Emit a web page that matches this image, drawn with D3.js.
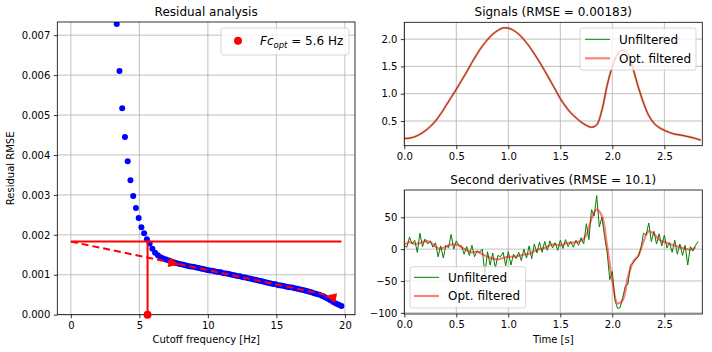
<!DOCTYPE html>
<html><head><meta charset="utf-8">
<script src="https://cdn.jsdelivr.net/npm/d3@7/dist/d3.min.js"></script>
<style>body{margin:0;background:#fff}svg{display:block;font-family:"DejaVu Sans",sans-serif}</style>
</head><body><svg id="c" width="712" height="352"></svg>
<script>
// ---------- data ----------
const freqs = [3.35,3.55,3.75,3.95,4.15,4.35,4.55,4.75,4.95,5.15,5.35,5.55,5.75,5.95,6.15,6.35,6.55,6.75,6.95,7.15,7.35,7.55,7.75,7.95,8.15,8.35,8.55,8.75,8.95,9.15,9.35,9.55,9.75,9.95,10.15,10.35,10.55,10.75,10.95,11.15,11.35,11.55,11.75,11.95,12.15,12.35,12.55,12.75,12.95,13.15,13.35,13.55,13.75,13.95,14.15,14.35,14.55,14.75,14.95,15.15,15.35,15.55,15.75,15.95,16.15,16.35,16.55,16.75,16.95,17.15,17.35,17.55,17.75,17.95,18.15,18.35,18.55,18.75,18.95,19.15,19.35,19.55,19.75];
const residuals = [0.00728,0.00610,0.00517,0.00445,0.00384,0.00337,0.00297,0.00267,0.00242,0.00219,0.00204,0.00189,0.00178,0.00165,0.00155,0.00149,0.00144,0.00141,0.00138,0.00136,0.00133,0.00131,0.00129,0.00127,0.00126,0.00124,0.00122,0.00121,0.00120,0.00118,0.00117,0.00115,0.00114,0.00112,0.00111,0.00110,0.00108,0.00107,0.00106,0.00104,0.00103,0.00102,0.00100,0.00099,0.00097,0.00096,0.00094,0.00093,0.00091,0.00090,0.00088,0.00087,0.00085,0.00084,0.00082,0.00080,0.00079,0.00077,0.00076,0.00074,0.00073,0.00072,0.00070,0.00069,0.00068,0.00066,0.00065,0.00063,0.00062,0.00060,0.00058,0.00056,0.00054,0.00052,0.00050,0.00047,0.00044,0.00040,0.00036,0.00032,0.00028,0.00025,0.00022];
const fcOpt = 5.6;
const rmseOpt = 0.00183;
const regFreqs = [0, 19.6];
const regValues = [0.00183, 0.00043];
const arrowFreqs = [7.5, 19.0];
const arrowValues = [0.00129, 0.00044];
const arrowDirs = [1, -1];
const residualYMax = 0.00733;
const residualXTicks = [0, 5, 10, 15, 20];
const residualYTicks = [0, 0.001, 0.002, 0.003, 0.004, 0.005, 0.006, 0.007];

const timeSig = [0,0.05,0.1,0.15,0.2,0.25,0.3,0.35,0.4,0.45,0.5,0.55,0.6,0.65,0.7,0.75,0.8,0.85,0.9,0.95,1.0,1.05,1.1,1.15,1.2,1.25,1.3,1.35,1.4,1.45,1.5,1.55,1.6,1.65,1.7,1.75,1.8,1.85,1.9,1.95,2.0,2.05,2.1,2.15,2.2,2.25,2.3,2.35,2.4,2.45,2.5,2.55,2.6,2.65,2.7,2.75,2.8,2.85];
const signalRaw = [0.18,0.185,0.21,0.257,0.32,0.40,0.50,0.63,0.78,0.93,1.08,1.24,1.40,1.57,1.73,1.87,1.99,2.09,2.16,2.205,2.20,2.16,2.09,1.99,1.87,1.73,1.58,1.42,1.25,1.08,0.91,0.77,0.65,0.56,0.48,0.42,0.385,0.43,0.70,1.15,1.50,1.72,1.80,1.73,1.45,1.12,0.83,0.60,0.46,0.38,0.33,0.29,0.26,0.245,0.225,0.205,0.18,0.15];
const signalFilt = [0.18,0.185,0.21,0.257,0.32,0.40,0.50,0.63,0.78,0.93,1.08,1.24,1.40,1.57,1.73,1.87,1.99,2.09,2.16,2.205,2.20,2.16,2.09,1.99,1.87,1.73,1.58,1.42,1.25,1.08,0.91,0.77,0.65,0.56,0.48,0.42,0.385,0.43,0.70,1.15,1.50,1.72,1.80,1.73,1.45,1.12,0.83,0.60,0.46,0.38,0.33,0.29,0.26,0.245,0.225,0.205,0.18,0.15];
const timeAccRaw = [0,0.025,0.05,0.075,0.1,0.125,0.15,0.175,0.2,0.225,0.25,0.275,0.3,0.325,0.35,0.375,0.4,0.425,0.45,0.475,0.5,0.525,0.55,0.575,0.6,0.625,0.65,0.675,0.7,0.725,0.75,0.775,0.8,0.825,0.85,0.875,0.9,0.925,0.95,0.975,1.0,1.025,1.05,1.075,1.1,1.125,1.15,1.175,1.2,1.225,1.25,1.275,1.3,1.325,1.35,1.375,1.4,1.425,1.45,1.475,1.5,1.525,1.55,1.575,1.6,1.625,1.65,1.675,1.7,1.725,1.75,1.775,1.8,1.825,1.85,1.875,1.9,1.925,1.95,1.975,2.0,2.025,2.05,2.075,2.1,2.125,2.15,2.175,2.2,2.225,2.25,2.275,2.3,2.325,2.35,2.375,2.4,2.425,2.45,2.475,2.5,2.525,2.55,2.575,2.6,2.625,2.65,2.675,2.7,2.725,2.75,2.775,2.8,2.825];
const accRaw = [5,3,19,8,14,-5,25,4,16,8,13,3,10,-12,5,-14,6,2,23,0,13,6,5,-8,4,-10,6,-12,-3,-5,0,-40,-4,-25,-6,-30,-10,-12,-5,-26,-4,-25,-8,-15,-5,-18,0,-14,5,-15,8,-6,11,-5,12,-2,13,2,10,-2,14,1,15,4,12,3,14,6,18,8,40,15,62,52,84,35,50,20,-5,-48,-35,-80,-93,-92,-76,-58,-55,-25,-22,-15,-12,2,25,22,41,12,28,8,24,5,22,2,10,-5,14,-8,8,-10,6,-25,4,-3,6,12];
const timeAccFilt = [0,0.05,0.1,0.15,0.2,0.25,0.3,0.35,0.4,0.45,0.5,0.55,0.6,0.65,0.7,0.75,0.8,0.85,0.9,0.95,1.0,1.05,1.1,1.15,1.2,1.25,1.3,1.35,1.4,1.45,1.5,1.55,1.6,1.65,1.7,1.75,1.8,1.85,1.9,1.95,2.0,2.05,2.1,2.15,2.2,2.25,2.3,2.35,2.4,2.45,2.5,2.55,2.6,2.65,2.7,2.75,2.8];
const accFilt = [7,11,8,9.5,12.6,11,4,0.5,4,7,7,3,-2,-5,-4,-8,-12,-15,-16,-14,-12,-12,-10.5,-8.4,-7.4,-3,0,2,6,7.4,5.8,9,10,11,13,22,48,62,52,5,-50,-85,-80,-44,-20,-10,12,28,24,15,11,8.5,5.5,3,1,-1,3];
const timeMax = 2.865;
const timeTicks = [0, 0.5, 1.0, 1.5, 2.0, 2.5];
const sigYTicks = [0.5, 1.0, 1.5, 2.0];
const accYTicks = [-100, -50, 0, 50];
const legendLabels = ["Unfiltered", "Opt. filtered"];

// ---------- helpers ----------
const svg = d3.select("#c");
const FONT = '"DejaVu Sans", sans-serif';
const GREEN = "#008000", RED = "#ff0000";
function pad(ext){const r=ext[1]-ext[0];return [ext[0]-0.05*r, ext[1]+0.05*r];}
let clipId = 0;
function panel(box, xs, ys, xt, yt, xf, yf, title){
  const g = svg.append("g");
  g.append("g").selectAll("line").data(xt).join("line")
    .attr("x1",d=>xs(d)).attr("x2",d=>xs(d)).attr("y1",box.y0).attr("y2",box.y1)
    .attr("stroke","#b0b0b0").attr("stroke-width",0.8);
  g.append("g").selectAll("line").data(yt).join("line")
    .attr("y1",d=>ys(d)).attr("y2",d=>ys(d)).attr("x1",box.x0).attr("x2",box.x1)
    .attr("stroke","#b0b0b0").attr("stroke-width",0.8);
  const id = "clip"+(clipId++);
  svg.append("clipPath").attr("id",id).append("rect")
    .attr("x",box.x0).attr("y",box.y0).attr("width",box.x1-box.x0).attr("height",box.y1-box.y0);
  const plot = svg.append("g").attr("clip-path",`url(#${id})`);
  const over = svg.append("g");
  const xa = over.append("g").attr("transform",`translate(0,${box.y1})`)
    .call(d3.axisBottom(xs).tickValues(xt).tickFormat(xf).tickSize(3.5).tickPadding(3.5));
  const ya = over.append("g").attr("transform",`translate(${box.x0},0)`)
    .call(d3.axisLeft(ys).tickValues(yt).tickFormat(yf).tickSize(3.5).tickPadding(3.5));
  [xa,ya].forEach(a=>{a.select(".domain").remove();
    a.selectAll("text").attr("font-family",FONT).attr("font-size",10).attr("fill","#000");
    a.selectAll("line").attr("stroke","#000").attr("stroke-width",0.8);});
  over.append("rect").attr("x",box.x0).attr("y",box.y0).attr("width",box.x1-box.x0).attr("height",box.y1-box.y0)
    .attr("fill","none").attr("stroke","#000").attr("stroke-width",0.8);
  over.append("text").attr("x",(box.x0+box.x1)/2).attr("y",box.y0-6).attr("text-anchor","middle")
    .attr("font-family",FONT).attr("font-size",12).text(title);
  return {plot, over};
}
function legendBox(g, x, y, w, h){
  g.append("rect").attr("x",x).attr("y",y).attr("width",w).attr("height",h).attr("rx",2.5)
    .attr("fill","#fff").attr("fill-opacity",0.8).attr("stroke","#cccccc").attr("stroke-width",0.8);
}

// ---------- left panel: residual analysis ----------
const LB = {x0:57.3, x1:355, y0:22, y1:314.7};
const lx = d3.scaleLinear().domain(pad([0, d3.max(freqs)])).range([LB.x0, LB.x1]);
const ly = d3.scaleLinear().domain([0, residualYMax]).range([LB.y1, LB.y0]);
const L = panel(LB, lx, ly, residualXTicks, residualYTicks, d3.format("d"), d3.format(".3f"), "Residual analysis");
L.plot.append("g").selectAll("circle").data(freqs).join("circle")
  .attr("cx",d=>lx(d)).attr("cy",(d,i)=>ly(residuals[i])).attr("r",3).attr("fill","#0000ff");
L.plot.append("line").attr("x1",lx(0)).attr("x2",lx(d3.max(freqs))).attr("y1",ly(rmseOpt)).attr("y2",ly(rmseOpt))
  .attr("stroke",RED).attr("stroke-width",2);
L.plot.append("line").attr("x1",lx(fcOpt)).attr("x2",lx(fcOpt)).attr("y1",ly(0)).attr("y2",ly(rmseOpt))
  .attr("stroke",RED).attr("stroke-width",2);
L.plot.append("line").attr("x1",lx(regFreqs[0])).attr("x2",lx(regFreqs[1])).attr("y1",ly(regValues[0])).attr("y2",ly(regValues[1]))
  .attr("stroke",RED).attr("stroke-width",2).attr("stroke-dasharray","7,4");
const ang = Math.atan2(ly(regValues[1])-ly(regValues[0]), lx(regFreqs[1])-lx(regFreqs[0]));
L.plot.append("g").selectAll("path").data(arrowFreqs).join("path")
  .attr("d","M6,0 L-5,-5 L-5,5 Z")
  .attr("transform",(d,i)=>`translate(${lx(d)},${ly(arrowValues[i])}) rotate(${(ang*180/Math.PI)+(arrowDirs[i]<0?180:0)})`)
  .attr("fill",RED);
L.over.append("circle").attr("cx",lx(fcOpt)).attr("cy",ly(0)).attr("r",4).attr("fill",RED);
svg.append("text").attr("x",(LB.x0+LB.x1)/2).attr("y",343).attr("text-anchor","middle")
  .attr("font-family",FONT).attr("font-size",10).text("Cutoff frequency [Hz]");
svg.append("text").attr("transform",`translate(14,${(LB.y0+LB.y1)/2}) rotate(-90)`).attr("text-anchor","middle")
  .attr("font-family",FONT).attr("font-size",10).text("Residual RMSE");
legendBox(L.over, 221, 28, 128, 27);
L.over.append("circle").attr("cx",238).attr("cy",40.7).attr("r",4).attr("fill",RED);
const lt = L.over.append("text").attr("x",260).attr("y",45).attr("font-family",FONT).attr("font-size",12);
lt.append("tspan").attr("font-style","italic").text("Fc");
lt.append("tspan").attr("font-style","italic").attr("font-size",8.5).attr("dy",3).text("opt");
lt.append("tspan").attr("dy",-3).text(" = " + fcOpt.toFixed(1) + " Hz");

// ---------- top right: signals ----------
const TB = {x0:404.3, x1:702.3, y0:22.3, y1:145.7};
const tx = d3.scaleLinear().domain([0, timeMax]).range([TB.x0, TB.x1]);
const ty = d3.scaleLinear().domain(pad(d3.extent(signalRaw.concat(signalFilt)))).range([TB.y1, TB.y0]);
const T = panel(TB, tx, ty, timeTicks, sigYTicks, d3.format(".1f"), d3.format(".1f"), "Signals (RMSE = " + rmseOpt + ")");
const lineT = (ts)=>d3.line().x((d,i)=>tx(ts[i])).y(d=>ty(d)).curve(d3.curveCatmullRom);
T.plot.append("path").datum(signalRaw).attr("d",lineT(timeSig)).attr("fill","none").attr("stroke",GREEN).attr("stroke-width",1);
T.plot.append("path").datum(signalFilt).attr("d",lineT(timeSig)).attr("fill","none").attr("stroke",RED).attr("stroke-opacity",0.5).attr("stroke-width",2.2);
legendBox(T.over, 580, 28, 116, 42);
T.over.append("line").attr("x1",585).attr("x2",610).attr("y1",39.3).attr("y2",39.3).attr("stroke",GREEN).attr("stroke-width",1);
T.over.append("line").attr("x1",585).attr("x2",610).attr("y1",58.3).attr("y2",58.3).attr("stroke",RED).attr("stroke-opacity",0.5).attr("stroke-width",2.2);
T.over.selectAll("text.lg").data(legendLabels).join("text").attr("class","lg")
  .attr("x",619).attr("y",(d,i)=>43.6+i*19).attr("font-family",FONT).attr("font-size",12).text(d=>d);

// ---------- bottom right: second derivatives ----------
const BB = {x0:404.3, x1:702.3, y0:190, y1:314};
const bx = d3.scaleLinear().domain([0, timeMax]).range([BB.x0, BB.x1]);
const by = d3.scaleLinear().domain(pad(d3.extent(accRaw.concat(accFilt)))).range([BB.y1, BB.y0]);
const B = panel(BB, bx, by, timeTicks, accYTicks, d3.format(".1f"), d3.format("d"), "Second derivatives (RMSE = 10.1)");
B.plot.append("path").datum(accRaw).attr("d",d3.line().x((d,i)=>bx(timeAccRaw[i])).y(d=>by(d)))
  .attr("fill","none").attr("stroke",GREEN).attr("stroke-width",1);
B.plot.append("path").datum(accFilt).attr("d",d3.line().x((d,i)=>bx(timeAccFilt[i])).y(d=>by(d)).curve(d3.curveCatmullRom))
  .attr("fill","none").attr("stroke",RED).attr("stroke-opacity",0.5).attr("stroke-width",2.2);
legendBox(B.over, 410, 266.7, 115.7, 41.3);
B.over.append("line").attr("x1",414).attr("x2",439).attr("y1",277.3).attr("y2",277.3).attr("stroke",GREEN).attr("stroke-width",1);
B.over.append("line").attr("x1",414).attr("x2",439).attr("y1",296).attr("y2",296).attr("stroke",RED).attr("stroke-opacity",0.5).attr("stroke-width",2.2);
B.over.selectAll("text.lg").data(legendLabels).join("text").attr("class","lg")
  .attr("x",448).attr("y",(d,i)=>281.6+i*18.7).attr("font-family",FONT).attr("font-size",12).text(d=>d);
svg.append("text").attr("x",(BB.x0+BB.x1)/2).attr("y",343).attr("text-anchor","middle")
  .attr("font-family",FONT).attr("font-size",10).text("Time [s]");
</script></body></html>
